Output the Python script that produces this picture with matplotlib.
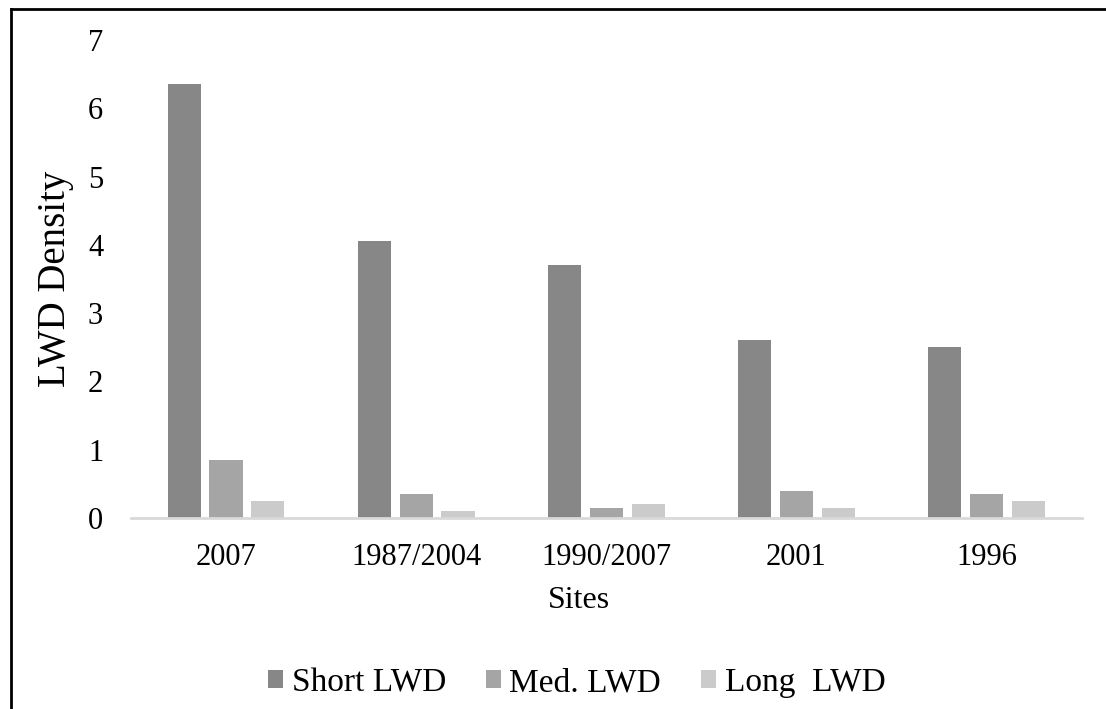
import matplotlib.pyplot as plt
import numpy as np
from matplotlib.lines import Line2D

sites = ["2007", "1987/2004", "1990/2007", "2001", "1996"]
short_lwd = [6.35, 4.05, 3.7, 2.6, 2.5]
med_lwd = [0.85, 0.35, 0.15, 0.4, 0.35]
long_lwd = [0.25, 0.1, 0.2, 0.15, 0.25]

series = [
    ("Short LWD", short_lwd, "#878787"),
    ("Med. LWD", med_lwd, "#a5a5a5"),
    ("Long  LWD", long_lwd, "#cbcbcb"),
]

plt.rcParams["font.family"] = ["Liberation Serif", "DejaVu Serif"]

fig = plt.figure(figsize=(11.06, 7.09), dpi=100)
ax = fig.add_axes([0.1184, 0.2694, 0.8596, 0.6742])

x = np.arange(len(sites))
width = 0.174
step = 0.22
for i, (name, vals, color) in enumerate(series):
    ax.bar(x + (i - 1) * step, vals, width, color=color, label=name, zorder=2)

ax.set_xlim(-0.5, len(sites) - 0.5)
ax.set_ylim(0, 7)
ax.set_yticks(range(0, 8))
ax.set_xticks(x)
ax.set_xticklabels(sites)
ax.tick_params(axis="both", length=0, labelsize=22)
ax.tick_params(axis="y", pad=20)
ax.tick_params(axis="x", pad=18)

for s in ["top", "right", "left"]:
    ax.spines[s].set_visible(False)
ax.spines["bottom"].set_color("#d9d9d9")
ax.spines["bottom"].set_linewidth(2)
ax.spines["bottom"].set_zorder(3)

ax.set_xlabel("Sites", fontsize=23, labelpad=12)
ax.xaxis.set_label_coords(0.471, -0.142)
ax.set_ylabel("LWD Density", fontsize=28, labelpad=10)

ax.legend(loc="center", bbox_to_anchor=(0.469, -0.345), ncol=3, frameon=False,
          fontsize=24, handlelength=0.45, handleheight=0.45, handletextpad=0.25,
          columnspacing=1.2)

# page border (top and left only)
fig.add_artist(Line2D([0.0095, 0.0095], [0, 0.987], color="black", lw=2,
                      transform=fig.transFigure))
fig.add_artist(Line2D([0.0095, 1.0], [0.987, 0.987], color="black", lw=2,
                      transform=fig.transFigure))

fig.savefig("out.png", dpi=100)
